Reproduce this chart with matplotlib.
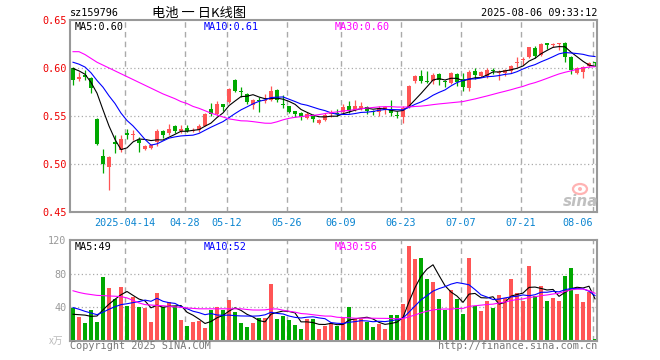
import matplotlib
matplotlib.use('Agg')
import matplotlib.pyplot as plt
import numpy as np
import pandas as pd
from matplotlib.patches import Ellipse

# ---------------- data ----------------
opens = [0.600, 0.5885, 0.593, 0.590, 0.547, 0.508, 0.497, 0.523, 0.515, 0.532,
         0.530, 0.525, 0.516, 0.517, 0.523, 0.534, 0.532, 0.540, 0.534, 0.537,
         0.534, 0.535, 0.540, 0.557, 0.552, 0.563, 0.5645, 0.587, 0.5757, 0.573,
         0.561, 0.567, 0.566, 0.567, 0.577, 0.563, 0.560, 0.555, 0.553, 0.548,
         0.551, 0.543, 0.546, 0.552, 0.553, 0.5538, 0.5608, 0.5559, 0.5584, 0.559,
         0.5545, 0.5538, 0.5559, 0.5573, 0.5507, 0.549, 0.559, 0.586, 0.5915, 0.586,
         0.586, 0.594, 0.586, 0.584, 0.594, 0.589, 0.579, 0.597, 0.5917, 0.592,
         0.598, 0.595, 0.595, 0.597, 0.605, 0.608, 0.611, 0.621, 0.6135, 0.626,
         0.624, 0.625, 0.626, 0.611, 0.595, 0.596, 0.602, 0.6055]
highs = [0.601, 0.596, 0.598, 0.591, 0.548, 0.516, 0.508, 0.530, 0.530, 0.536,
         0.535, 0.528, 0.520, 0.521, 0.536, 0.535, 0.5415, 0.541, 0.541, 0.541,
         0.537, 0.542, 0.553, 0.564, 0.566, 0.563, 0.579, 0.589, 0.580, 0.574,
         0.568, 0.570, 0.573, 0.581, 0.578, 0.572, 0.5605, 0.5555, 0.554, 0.554,
         0.552, 0.547, 0.553, 0.556, 0.557, 0.5625, 0.5653, 0.567, 0.5643, 0.5608,
         0.5566, 0.560, 0.5608, 0.567, 0.555, 0.560, 0.582, 0.593, 0.598, 0.597,
         0.595, 0.595, 0.5875, 0.596, 0.595, 0.5945, 0.598, 0.600, 0.5972, 0.600,
         0.6005, 0.598, 0.599, 0.603, 0.611, 0.611, 0.622, 0.6225, 0.626, 0.626,
         0.6265, 0.6265, 0.627, 0.612, 0.601, 0.602, 0.6065, 0.606]
lows = [0.582, 0.586, 0.588, 0.574, 0.520, 0.491, 0.473, 0.511, 0.512, 0.526,
        0.525, 0.513, 0.515, 0.516, 0.519, 0.527, 0.530, 0.532, 0.532, 0.533,
        0.533, 0.533, 0.540, 0.550, 0.551, 0.555, 0.564, 0.575, 0.570, 0.563,
        0.557, 0.5545, 0.564, 0.566, 0.565, 0.558, 0.5535, 0.5485, 0.546, 0.547,
        0.544, 0.542, 0.545, 0.549, 0.5497, 0.5531, 0.5531, 0.5549, 0.5566, 0.5524,
        0.5514, 0.5504, 0.5524, 0.5504, 0.548, 0.543, 0.558, 0.584, 0.584, 0.584,
        0.583, 0.582, 0.580, 0.583, 0.581, 0.5765, 0.5765, 0.589, 0.5903, 0.590,
        0.594, 0.587, 0.592, 0.5945, 0.601, 0.6035, 0.610, 0.610, 0.612, 0.6195,
        0.6215, 0.619, 0.6065, 0.5935, 0.594, 0.590, 0.6015, 0.602]
closes = [0.587, 0.591, 0.591, 0.579, 0.521, 0.500, 0.507, 0.521, 0.526, 0.530,
          0.531, 0.522, 0.519, 0.520, 0.534, 0.530, 0.5365, 0.534, 0.536, 0.534,
          0.535, 0.540, 0.552, 0.552, 0.563, 0.559, 0.578, 0.576, 0.575, 0.565,
          0.567, 0.566, 0.567, 0.576, 0.567, 0.5615, 0.5545, 0.552, 0.549, 0.552,
          0.547, 0.546, 0.551, 0.553, 0.552, 0.5597, 0.5549, 0.5608, 0.5608, 0.5549,
          0.5540, 0.5584, 0.559, 0.5531, 0.5502, 0.558, 0.581, 0.592, 0.586, 0.5855,
          0.593, 0.588, 0.585, 0.595, 0.585, 0.5805, 0.596, 0.5925, 0.5962, 0.598,
          0.597, 0.596, 0.5975, 0.602, 0.606, 0.609, 0.6215, 0.612, 0.6255, 0.6235,
          0.625, 0.6255, 0.611, 0.5975, 0.600, 0.601, 0.6055, 0.605]
volumes = [38.8, 28.7, 21.0, 36.4, 22.2, 75.5, 62.6, 50.1, 63.4, 41.6,
           52.5, 40.4, 39.2, 22.2, 57.4, 40.0, 46.5, 41.2, 24.6, 17.4,
           22.2, 23.4, 15.0, 36.4, 39.6, 36.4, 48.9, 34.7, 21.0, 16.2,
           21.0, 27.0, 27.1, 67.1, 25.9, 29.9, 24.2, 18.6, 13.7, 25.9,
           25.5, 13.7, 17.8, 20.6, 17.8, 26.7, 39.6, 25.5, 25.5, 22.6,
           16.2, 19.4, 13.7, 30.7, 30.7, 44.0, 113.0, 97.8, 98.6, 73.5,
           69.5, 49.3, 36.8, 61.0, 49.3, 31.9, 98.6, 40.8, 35.6, 47.7,
           39.2, 54.9, 50.9, 73.1, 57.0, 47.7, 88.9, 52.9, 65.0, 47.7,
           50.9, 47.7, 76.8, 86.9, 56.2, 46.5, 58.2, 1.6]

# moving-average values at the start of the window (read from the picture,
# they depend on days before the first candle)
price_ma5_head = [0.5995, 0.597, 0.5935, 0.585]
price_ma10_head = [0.606, 0.604, 0.601, 0.595, 0.587, 0.580, 0.571, 0.563, 0.553]
price_ma30_head = [0.617, 0.617, 0.614, 0.610, 0.606, 0.603, 0.600, 0.597, 0.594,
                   0.591, 0.588, 0.585, 0.582, 0.579, 0.576, 0.573, 0.5705, 0.568,
                   0.565, 0.563, 0.560, 0.558, 0.5555, 0.553, 0.551, 0.549, 0.547,
                   0.546, 0.545]
vol_ma5_head = [31.5, 31.0, 30.5, 29.0]
vol_ma10_head = [39.5, 37.5, 35.0, 33.0, 31.0, 34.0, 37.5, 40.5, 43.0]
vol_ma30_head = [59.5, 57.5, 56.0, 55.0, 54.0, 53.7, 53.3, 53.0, 52.5, 51.0,
                 48.0, 45.0, 43.0, 42.5, 42.0, 41.7, 41.0, 40.3, 39.7, 39.0,
                 38.5, 38.0, 38.0, 38.0, 38.0, 38.0, 38.0, 38.0, 38.0]

tick_index = [9, 19, 26, 36, 45, 55, 65, 75, 87]
tick_labels = ['2025-04-14', '04-28', '05-12', '05-26', '06-09',
               '06-23', '07-07', '07-21', '08-06']
price_ticks = [0.45, 0.50, 0.55, 0.60, 0.65]
vol_ticks = [40, 80, 120]

title_code = 'sz159796'
title_name = '电池 一 日K线图'
title_time = '2025-08-06 09:33:12'
price_ma_labels = ['MA5:0.60', 'MA10:0.61', 'MA30:0.60']
vol_ma_labels = ['MA5:49', 'MA10:52', 'MA30:56']
vol_unit = 'x万'
copyright_text = 'Copyright 2025 SINA.COM'
url_text = 'http://finance.sina.com.cn'

# ---------------- styles ----------------
RED = '#ff5555'
GREEN = '#00a800'
MA_COLORS = ['black', '#0000ff', '#ff00ff']
MONO = 'DejaVu Sans Mono'
FS = 7.3
GRID = '#aaaaaa'
SPINE = '#999999'

W, H = 660, 360
fig = plt.figure(figsize=(W / 100, H / 100), dpi=100)
fig.patch.set_facecolor('white')


def fx(px):
    return px / W


def fy(py):
    return 1 - py / H


ax = fig.add_axes([fx(70), fy(212), 527 / W, 192 / H])
axv = fig.add_axes([fx(70), fy(340.7), 527 / W, 100.7 / H])

o = np.array(opens)
h = np.array(highs)
l = np.array(lows)
c = np.array(closes)
v = np.array(volumes)
x = np.arange(len(c))
up = c >= o
cols = np.where(up, RED, GREEN)


def moving(series, n, head):
    m = pd.Series(series).rolling(n).mean().to_numpy()
    m[:len(head)] = head
    return m


pm = [moving(c, 5, price_ma5_head), moving(c, 10, price_ma10_head),
      moving(c, 30, price_ma30_head)]
vm = [moving(v, 5, vol_ma5_head), moving(v, 10, vol_ma10_head),
      moving(v, 30, vol_ma30_head)]

grid_x = [t - 0.4 for t in tick_index]
xlim = (-0.5, 87.33)

# ---- price panel ----
for gx in grid_x:
    ax.axvline(gx, color=GRID, lw=1.0, ls=(0, (4, 3)), zorder=0)
for gy in price_ticks[1:-1]:
    ax.axhline(gy, color=GRID, lw=0.9, ls=(0, (1, 2)), zorder=0)

ax.vlines(x, l, h, colors=cols, linewidth=0.9, zorder=2)
body_b = np.minimum(o, c)
body_h = np.maximum(np.abs(c - o), 0.0011)
ax.bar(x, body_h, bottom=body_b, width=0.7, color=cols, linewidth=0, zorder=2)
for m, col in zip(pm, MA_COLORS):
    ax.plot(x, m, color=col, lw=0.8, zorder=3)

ax.set_xlim(*xlim)
ax.set_ylim(0.45, 0.65)
ax.set_yticks(price_ticks)
ax.set_yticklabels(['%.2f' % t for t in price_ticks], color='#ee0000',
                   fontfamily=MONO, fontsize=FS)
ax.set_xticks(grid_x)
ax.set_xticklabels(tick_labels, color='#0a84d0', fontfamily=MONO, fontsize=FS)
ax.get_xticklabels()[-1].set_ha('right')
ax.get_xticklabels()[-1].set_x(grid_x[-1])
ax.tick_params(axis='both', length=0)
ax.tick_params(axis='y', pad=2.4)
ax.tick_params(axis='x', pad=4.0)
for s in ax.spines.values():
    s.set_color(SPINE)
    s.set_linewidth(1.5)

# ---- volume panel ----
for gx in grid_x:
    axv.axvline(gx, color=GRID, lw=1.0, ls=(0, (4, 3)), zorder=0)
for gy in vol_ticks[:-1]:
    axv.axhline(gy, color=GRID, lw=0.9, ls=(0, (1, 2)), zorder=0)
axv.bar(x, v, width=0.72, color=cols, linewidth=0, zorder=2)
for m, col in zip(vm, MA_COLORS):
    axv.plot(x, m, color=col, lw=0.8, zorder=3)
axv.set_xlim(*xlim)
axv.set_ylim(0, 120)
axv.set_yticks(vol_ticks)
axv.set_yticklabels([str(t) for t in vol_ticks], color='#999999',
                    fontfamily=MONO, fontsize=FS)
axv.set_xticks([])
axv.tick_params(axis='both', length=0)
axv.tick_params(axis='y', pad=2.4)
for s in axv.spines.values():
    s.set_color(SPINE)
    s.set_linewidth(1.5)

# ---- texts ----
fig.text(fx(70), fy(13), title_code, fontfamily=MONO, fontsize=FS,
         color='black', ha='left', va='center')
fig.text(fx(199), fy(13), title_name,
         fontfamily=['Noto Sans CJK SC', 'DejaVu Sans'], fontsize=9.5,
         color='black', ha='center', va='center')
fig.text(fx(597), fy(13), title_time, fontfamily=MONO, fontsize=FS,
         color='black', ha='right', va='center')

lab_x = [75, 204, 335]
for t, px, col in zip(price_ma_labels, lab_x, MA_COLORS):
    fig.text(fx(px), fy(26.5), t, fontfamily=MONO, fontsize=FS, color=col,
             ha='left', va='center')
for t, px, col in zip(vol_ma_labels, lab_x, MA_COLORS):
    fig.text(fx(px), fy(246.5), t, fontfamily=MONO, fontsize=FS, color=col,
             ha='left', va='center')

fig.text(fx(63), fy(340.5), vol_unit,
         fontfamily=['Noto Sans CJK SC', 'DejaVu Sans'], fontsize=7,
         color='#bbbbbb', ha='right', va='center')
fig.text(fx(70), fy(346), copyright_text, fontfamily=MONO, fontsize=FS,
         color='#777777', ha='left', va='center')
fig.text(fx(597), fy(346), url_text, fontfamily=MONO, fontsize=FS,
         color='#777777', ha='right', va='center')

# sina watermark
fig.patches.append(Ellipse((fx(580), fy(189)), 14 / W, 10 / H,
                           transform=fig.transFigure, facecolor='none',
                           edgecolor='#ffb3b3', lw=1.6))
fig.patches.append(Ellipse((fx(580), fy(189)), 4 / W, 4 / H,
                           transform=fig.transFigure, facecolor='#ffb3b3',
                           edgecolor='none'))
fig.text(fx(581), fy(201), 'sina', fontsize=11, fontweight='bold',
         fontstyle='italic', color='#c0c0c0', ha='center', va='center')

fig.savefig('out.png', dpi=100)
